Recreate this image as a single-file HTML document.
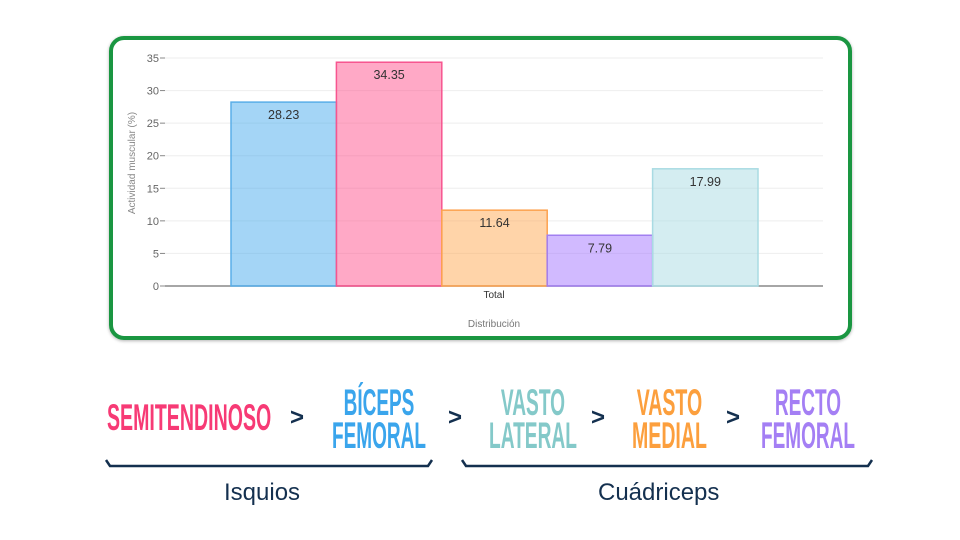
<!DOCTYPE html>
<html><head><meta charset="utf-8"><style>
body{margin:0;width:960px;height:540px;background:#fff;font-family:"Liberation Sans",sans-serif;overflow:hidden;position:relative}
.box{position:absolute;left:109px;top:36px;width:735px;height:296px;border:4px solid #1a9641;border-radius:15px;box-shadow:0 1px 3px rgba(0,0,0,.3)}
.lbl{position:absolute;white-space:nowrap;font-family:"Liberation Sans Narrow","Liberation Sans",sans-serif;font-weight:bold;font-size:37px;line-height:33px;text-align:center;transform-origin:0 0}
.gt{position:absolute;font-weight:bold;font-size:24px;color:#14304f;transform:translate(-50%,-50%)}
.grp{position:absolute;font-size:24px;color:#14304f}
</style></head><body>
<div class="box"></div>
<svg id="chart" width="960" height="540" style="position:absolute;left:0;top:0"></svg>
<div class="lbl" data-c="189" data-w="164" style="top:401px;color:#f73a75">SEMITENDINOSO</div>
<div class="gt" style="left:297px;top:418px">&gt;</div>
<div class="lbl" data-c="379" data-w="94" style="top:386px;color:#3aa5ec">BÍCEPS<br>FEMORAL</div>
<div class="gt" style="left:455px;top:418px">&gt;</div>
<div class="lbl" data-c="533" data-w="88" style="top:386px;color:#84c9c9">VASTO<br>LATERAL</div>
<div class="gt" style="left:598px;top:418px">&gt;</div>
<div class="lbl" data-c="669" data-w="75" style="top:386px;color:#fc9f3d">VASTO<br>MEDIAL</div>
<div class="gt" style="left:733px;top:418px">&gt;</div>
<div class="lbl" data-c="808" data-w="94" style="top:386px;color:#a47ff4">RECTO<br>FEMORAL</div>
<svg width="960" height="540" style="position:absolute;left:0;top:0;pointer-events:none">
<path d="M106,460 L110,466 L428,466 L432,460" fill="none" stroke="#14304f" stroke-width="2.5"/>
<path d="M462,460 L466,466 L868,466 L872,460" fill="none" stroke="#14304f" stroke-width="2.5"/>
</svg>
<div class="grp" style="left:224px;top:479px">Isquios</div>
<div class="grp" style="left:598px;top:479px">Cuádriceps</div>
<script>
document.querySelectorAll('.lbl').forEach(el=>{
 const w=el.offsetWidth,tw=+el.dataset.w,c=+el.dataset.c,s=tw/w;
 el.style.left=(c-tw/2)+'px';
 el.style.transform='scaleX('+s+')';
});
</script>
<script>
const categories=["Semitendinoso","Bíceps femoral","Vasto medial","Recto femoral","Vasto lateral"];
const values=[28.23,34.35,11.64,7.79,17.99];
const yTicks=[0,5,10,15,20,25,30,35];
const fills=["rgba(54,162,235,0.45)","rgba(255,64,129,0.45)","rgba(255,159,64,0.45)","rgba(153,102,255,0.45)","rgba(160,215,225,0.45)"];
const strokes=["#5aaee8","#f7558f","#fca24f","#a27ff0","#a9dbe3"];
const svg=document.getElementById('chart');const NS='http://www.w3.org/2000/svg';
const x0=165,x1=823,y0=286,yTop=58,yMax=35;
const y=v=>y0-(v/yMax)*(y0-yTop);
const bw=105.4,bStart=231;
const bx=i=>bStart+i*bw;
function mk(t,a){const e=document.createElementNS(NS,t);for(const k in a)e.setAttribute(k,a[k]);svg.appendChild(e);return e;}
yTicks.forEach(t=>{
 const g=mk('line',{x1:x0,x2:x1,y1:y(t),y2:y(t),stroke:t===0?'#888':'#eee','stroke-width':t===0?1.5:1});
 
 
 mk('line',{x1:x0-5,x2:x0,y1:y(t),y2:y(t),stroke:'#888'});
 const tx=mk('text',{x:x0-6,y:y(t)+4,'text-anchor':'end','font-size':11,fill:'#666'});tx.textContent=t;
 
 
});
values.forEach((v,i)=>{
 const r=mk('rect',{x:bx(i),y:y(v),width:bw,height:y0-y(v),fill:fills[i],stroke:strokes[i],'stroke-width':1.5});
 
 
 const t=mk('text',{x:bx(i)+bw/2,y:y(v)+17,'text-anchor':'middle','font-size':12.5,fill:'#333'});t.textContent=v.toFixed(2);
 
 
});
let t=mk('text',{x:494,y:298,'text-anchor':'middle','font-size':10,fill:'#333'});t.textContent='Total';


t=mk('text',{x:494,y:327,'text-anchor':'middle','font-size':10,fill:'#777'});t.textContent='Distribución';


t=mk('text',{x:135,y:163,'text-anchor':'middle','font-size':10,fill:'#888',transform:'rotate(-90 135 163)'});t.textContent='Actividad muscular (%)';


</script>
</body></html>
